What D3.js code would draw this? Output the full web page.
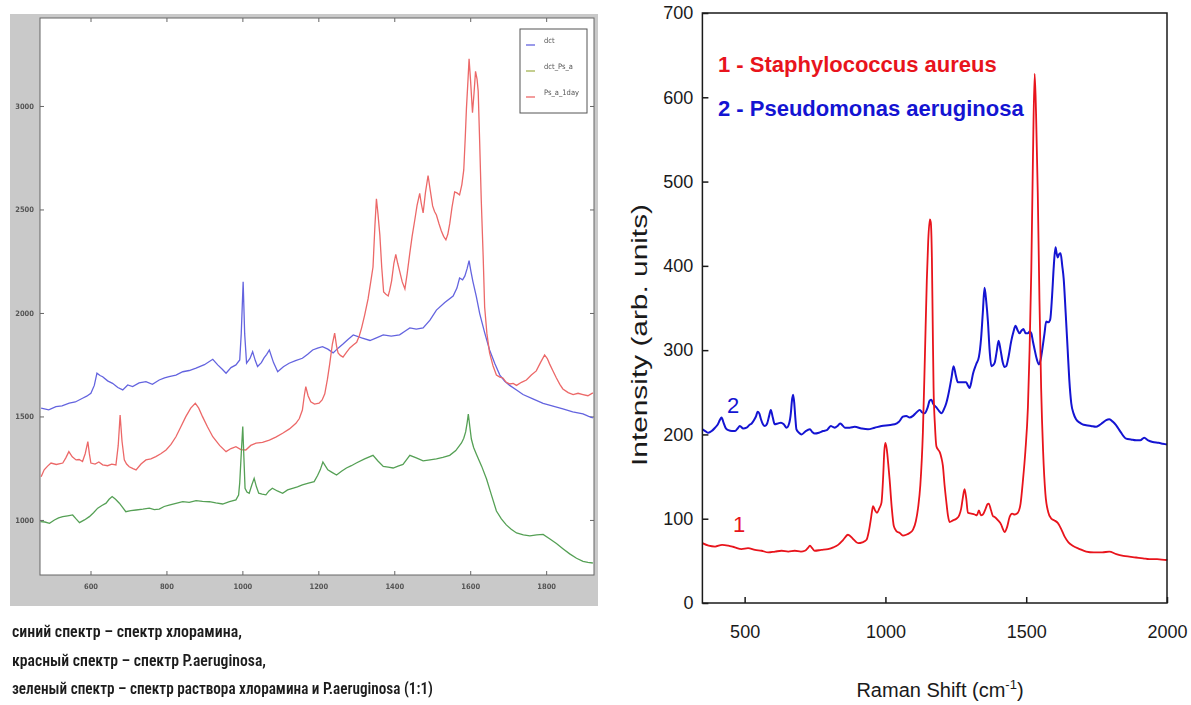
<!DOCTYPE html>
<html>
<head>
<meta charset="utf-8">
<script src="https://cdn.jsdelivr.net/npm/d3@7"></script>
<style>
  html, body { margin: 0; padding: 0; background: #ffffff; }
  svg { display: block; }
</style>
</head>
<body>
<svg id="fig" width="1191" height="705"></svg>
<script>
// ---------- Left panel: three spectra, [Raman shift, intensity] ----------
const dctSpectrum = [[470,1540],[490,1532],[509,1547],[525,1551],[544,1564],[560,1570],[579,1588],[590,1598],[601,1612],[610,1650],[617,1709],[625,1698],[632,1692],[645,1672],[658,1660],[672,1640],[685,1628],[698,1652],[711,1644],[728,1662],[746,1668],[763,1655],[781,1676],[795,1686],[807,1692],[825,1700],[843,1716],[860,1722],[878,1733],[900,1750],[922,1776],[935,1749],[947,1728],[957,1709],[970,1736],[983,1749],[993,1773],[997,1900],[1002,2151],[1006,1900],[1011,1757],[1020,1780],[1027,1813],[1034,1770],[1040,1741],[1050,1760],[1057,1783],[1064,1800],[1071,1821],[1082,1760],[1093,1716],[1108,1740],[1123,1757],[1140,1770],[1158,1781],[1172,1800],[1185,1821],[1198,1830],[1211,1837],[1225,1825],[1239,1807],[1252,1830],[1265,1850],[1278,1872],[1292,1894],[1314,1880],[1336,1867],[1353,1880],[1371,1894],[1392,1888],[1414,1894],[1428,1912],[1441,1928],[1458,1922],[1476,1928],[1494,1965],[1511,2014],[1533,2050],[1555,2082],[1565,2120],[1572,2169],[1580,2160],[1586,2179],[1592,2215],[1597,2253],[1602,2200],[1607,2153],[1616,2080],[1625,1997],[1638,1905],[1651,1821],[1665,1755],[1678,1700],[1691,1670],[1704,1650],[1722,1628],[1739,1606],[1765,1585],[1792,1563],[1818,1550],[1844,1536],[1870,1522],[1897,1512],[1912,1500],[1923,1493]];

const dctPsaSpectrum = [[468,992],[480,990],[492,984],[505,1000],[516,1010],[527,1016],[540,1020],[553,1024],[562,1005],[571,987],[584,1000],[597,1016],[608,1035],[619,1057],[630,1070],[641,1081],[649,1100],[657,1113],[666,1100],[676,1081],[685,1060],[693,1040],[706,1045],[720,1048],[738,1052],[755,1057],[768,1050],[781,1052],[794,1065],[807,1072],[825,1080],[843,1088],[860,1085],[878,1093],[895,1090],[913,1088],[930,1082],[948,1077],[966,1088],[983,1097],[990,1120],[993,1179],[997,1320],[1001,1451],[1004,1300],[1007,1153],[1012,1135],[1018,1129],[1025,1170],[1031,1201],[1037,1160],[1043,1129],[1052,1125],[1062,1121],[1070,1140],[1079,1153],[1092,1140],[1106,1129],[1119,1145],[1132,1153],[1145,1160],[1158,1169],[1174,1178],[1189,1185],[1198,1215],[1205,1242],[1212,1280],[1218,1262],[1225,1242],[1236,1230],[1248,1217],[1261,1235],[1274,1251],[1287,1262],[1300,1275],[1322,1295],[1344,1312],[1357,1285],[1371,1259],[1384,1255],[1397,1251],[1410,1260],[1423,1268],[1432,1290],[1441,1312],[1458,1300],[1476,1285],[1494,1290],[1511,1295],[1528,1302],[1546,1312],[1562,1335],[1577,1372],[1583,1395],[1588,1425],[1592,1470],[1595,1512],[1599,1450],[1603,1391],[1609,1350],[1616,1319],[1630,1260],[1643,1198],[1656,1120],[1669,1043],[1682,1005],[1695,976],[1708,955],[1722,937],[1740,928],[1757,923],[1775,928],[1792,930],[1810,908],[1827,886],[1845,860],[1862,836],[1880,815],[1897,800],[1910,795],[1923,792]];

const psa1daySpectrum = [[470,1209],[478,1242],[487,1260],[496,1275],[510,1268],[527,1275],[535,1300],[543,1330],[552,1305],[562,1290],[570,1292],[579,1282],[586,1320],[593,1378],[597,1320],[601,1275],[612,1270],[622,1280],[632,1266],[645,1262],[656,1270],[667,1266],[673,1360],[678,1507],[683,1380],[689,1290],[695,1270],[702,1257],[712,1248],[720,1242],[733,1270],[746,1290],[759,1295],[772,1306],[785,1320],[799,1338],[812,1365],[825,1402],[838,1450],[851,1499],[864,1540],[876,1564],[885,1540],[895,1499],[908,1450],[922,1402],[940,1360],[957,1330],[970,1345],[983,1354],[996,1340],[1009,1338],[1022,1360],[1036,1371],[1053,1375],[1071,1386],[1088,1400],[1106,1419],[1124,1440],[1141,1467],[1150,1490],[1158,1531],[1163,1600],[1167,1644],[1173,1600],[1180,1571],[1190,1560],[1202,1564],[1210,1580],[1217,1609],[1224,1680],[1230,1754],[1237,1850],[1243,1903],[1248,1840],[1252,1807],[1258,1795],[1265,1787],[1274,1810],[1283,1831],[1292,1845],[1301,1858],[1308,1890],[1314,1928],[1322,1990],[1331,2068],[1338,2150],[1344,2222],[1349,2420],[1353,2551],[1357,2480],[1362,2377],[1367,2220],[1372,2101],[1378,2090],[1384,2082],[1388,2110],[1393,2155],[1399,2240],[1404,2283],[1409,2240],[1414,2203],[1421,2150],[1428,2116],[1434,2190],[1441,2290],[1447,2370],[1454,2449],[1460,2520],[1467,2578],[1471,2530],[1476,2483],[1482,2580],[1489,2664],[1495,2590],[1501,2517],[1506,2490],[1511,2473],[1518,2430],[1524,2396],[1530,2370],[1536,2353],[1541,2380],[1546,2430],[1552,2510],[1559,2585],[1565,2580],[1572,2570],[1578,2620],[1583,2691],[1587,2850],[1590,2986],[1594,3120],[1597,3228],[1601,3120],[1606,2968],[1610,3060],[1614,3167],[1618,3130],[1621,3072],[1625,2820],[1629,2551],[1634,2280],[1638,2029],[1644,1900],[1651,1807],[1660,1745],[1669,1700],[1678,1690],[1686,1686],[1695,1665],[1704,1657],[1713,1660],[1722,1650],[1735,1665],[1748,1676],[1761,1700],[1774,1720],[1785,1760],[1796,1797],[1803,1780],[1809,1754],[1818,1720],[1827,1686],[1836,1655],[1844,1633],[1858,1615],[1871,1606],[1884,1612],[1897,1606],[1910,1600],[1923,1614]];

const leftLegendNames = ["dct", "dct_Ps_a", "Ps_a_1day"];
const leftXTicks = [600, 800, 1000, 1200, 1400, 1600, 1800];
const leftYTicks = [1000, 1500, 2000, 2500, 3000];
const captionLines = [
  "синий спектр – спектр хлорамина,",
  "красный спектр – спектр P.aeruginosa,",
  "зеленый спектр – спектр раствора хлорамина и P.aeruginosa (1:1)"
];

// ---------- Right panel: two bacterial spectra ----------
const staphAureus = [[350,71],[372,68],[395,67],[420,69],[442,68],[465,66],[489,64],[512,65],[537,63],[560,62],[584,60],[608,61],[631,62],[655,61],[678,62],[700,61],[714,62],[724,65],[732,68],[740,65],[749,62],[772,63],[796,64],[815,66],[832,69],[850,75],[867,81],[885,76],[903,71],[918,72],[933,75],[941,85],[948,99],[952,108],[956,115],[963,110],[970,107],[978,112],[986,119],[992,150],[996,180],[1000,190],[1005,182],[1010,165],[1015,146],[1022,115],[1030,91],[1040,85],[1051,83],[1062,80],[1074,81],[1086,83],[1098,87],[1108,97],[1116,113],[1124,140],[1133,202],[1140,290],[1147,383],[1152,430],[1158,455],[1161,452],[1165,410],[1168,330],[1171,255],[1176,210],[1181,186],[1187,182],[1193,179],[1199,172],[1204,163],[1210,140],[1216,121],[1222,104],[1228,96],[1240,98],[1252,100],[1262,104],[1269,112],[1275,125],[1281,135],[1287,124],[1293,107],[1305,106],[1317,105],[1325,104],[1332,110],[1339,104],[1346,105],[1356,112],[1362,117],[1367,118],[1375,110],[1382,103],[1388,102],[1400,98],[1411,93],[1417,88],[1423,84],[1432,90],[1441,102],[1450,106],[1459,105],[1470,107],[1480,118],[1488,144],[1497,180],[1506,232],[1512,300],[1518,394],[1524,530],[1530,628],[1535,580],[1541,487],[1547,360],[1553,255],[1560,180],[1568,130],[1578,108],[1589,100],[1600,98],[1612,95],[1624,88],[1636,79],[1650,72],[1665,68],[1690,64],[1713,61],[1740,60],[1770,60],[1795,61],[1820,58],[1845,56],[1866,55],[1890,54],[1915,53],[1937,52],[1965,52],[1997,51],[2000,52]];

const pseudoAeruginosa = [[350,206],[360,204],[371,202],[383,204],[395,208],[405,212],[412,217],[418,220],[425,214],[432,208],[442,205],[455,204],[466,204],[475,207],[483,210],[495,207],[507,208],[516,211],[525,213],[535,218],[541,222],[546,227],[552,225],[558,218],[565,212],[572,210],[580,213],[587,222],[593,229],[600,220],[607,212],[618,213],[629,214],[639,212],[649,208],[658,213],[664,225],[668,240],[672,247],[676,238],[680,220],[684,206],[693,202],[702,200],[717,204],[732,206],[740,203],[749,201],[764,202],[779,204],[792,205],[806,210],[813,209],[820,208],[830,210],[839,213],[847,211],[856,208],[873,208],[891,209],[915,207],[938,206],[962,208],[986,210],[1010,211],[1033,212],[1048,215],[1062,221],[1074,222],[1086,220],[1098,222],[1110,226],[1122,229],[1131,226],[1139,225],[1150,232],[1157,240],[1163,241],[1170,236],[1181,232],[1190,228],[1199,225],[1208,230],[1216,237],[1222,245],[1228,255],[1235,268],[1242,281],[1250,270],[1257,262],[1272,262],[1287,262],[1293,258],[1299,255],[1305,262],[1311,272],[1322,283],[1332,292],[1340,315],[1346,345],[1352,374],[1358,358],[1364,334],[1370,300],[1376,281],[1382,282],[1388,285],[1395,298],[1402,311],[1409,300],[1417,285],[1423,280],[1429,281],[1436,290],[1447,311],[1455,322],[1462,329],[1469,324],[1476,320],[1483,323],[1490,325],[1498,320],[1506,320],[1512,322],[1518,320],[1524,310],[1529,302],[1537,290],[1545,283],[1552,290],[1558,303],[1565,320],[1571,334],[1578,333],[1585,336],[1592,365],[1598,400],[1604,422],[1608,415],[1612,410],[1617,414],[1622,415],[1628,400],[1633,385],[1640,345],[1647,302],[1653,265],[1660,237],[1668,225],[1677,218],[1690,214],[1700,212],[1713,211],[1730,210],[1748,209],[1760,211],[1772,214],[1784,217],[1795,218],[1808,215],[1819,211],[1835,203],[1855,195],[1872,194],[1890,193],[1905,193],[1919,196],[1933,193],[1949,191],[1970,190],[1985,189],[2000,188]];

const rightXTicks = [500, 1000, 1500, 2000];
const rightYTicks = [0, 100, 200, 300, 400, 500, 600, 700];
const rightLegend = ["1 - Staphylococcus aureus", "2 - Pseudomonas aeruginosa"];

// ---------------------------------------------------------------------
const svg = d3.select("#fig");
const defs = svg.append("defs");
defs.append("filter").attr("id", "soft")
  .attr("x", "-5%").attr("y", "-5%").attr("width", "110%").attr("height", "110%")
  .append("feGaussianBlur").attr("stdDeviation", 0.75);

// ===== Left panel =====
const L = { left: 40, right: 594, top: 18, bottom: 575 };
const left = svg.append("g").attr("filter", "url(#soft)");

left.append("rect").attr("x", 10).attr("y", 14).attr("width", 588).attr("height", 592)
  .attr("fill", "#c9c9c9");
left.append("rect").attr("x", L.left).attr("y", L.top)
  .attr("width", L.right - L.left).attr("height", L.bottom - L.top)
  .attr("fill", "#ffffff");

const xL = d3.scaleLinear().domain([467, 1926]).range([L.left, L.right]);
const yL = d3.scaleLinear().domain([734, 3425]).range([L.bottom, L.top]);

const tickStyle = g => {
  g.select(".domain").remove();
  g.selectAll(".tick line").attr("stroke", "#666");
  g.selectAll(".tick text").attr("fill", "#555").attr("font-size", 7.5)
    .attr("font-weight", "bold").attr("font-family", "DejaVu Sans Condensed, DejaVu Sans, sans-serif");
};
left.append("g").attr("transform", `translate(0,${L.bottom})`)
  .call(d3.axisBottom(xL).tickValues(leftXTicks).tickSize(-4).tickPadding(9).tickFormat(d3.format("d")))
  .call(tickStyle);
left.append("g").attr("transform", `translate(0,${L.top})`)
  .call(d3.axisTop(xL).tickValues(leftXTicks).tickSize(-4).tickFormat(""))
  .call(tickStyle);
left.append("g").attr("transform", `translate(${L.left},0)`)
  .call(d3.axisLeft(yL).tickValues(leftYTicks).tickSize(-4).tickPadding(6).tickFormat(d3.format("d")))
  .call(tickStyle);
left.append("g").attr("transform", `translate(${L.right},0)`)
  .call(d3.axisRight(yL).tickValues(leftYTicks).tickSize(-4).tickFormat(""))
  .call(tickStyle);

const lineL = d3.line().x(d => xL(d[0])).y(d => yL(d[1])).curve(d3.curveLinear);
const leftSeries = [
  { data: dctSpectrum, color: "#6464df" },
  { data: psa1daySpectrum, color: "#ec6868" },
  { data: dctPsaSpectrum, color: "#55a055" }
];
left.append("g").selectAll("path").data(leftSeries).join("path")
  .attr("d", d => lineL(d.data)).attr("fill", "none")
  .attr("stroke", d => d.color).attr("stroke-width", 1.3);

left.append("rect").attr("x", L.left).attr("y", L.top)
  .attr("width", L.right - L.left).attr("height", L.bottom - L.top)
  .attr("fill", "none").attr("stroke", "#666").attr("stroke-width", 1);

// legend box
const lg = left.append("g").attr("transform", "translate(520,29)");
lg.append("rect").attr("width", 67).attr("height", 84)
  .attr("fill", "#ffffff").attr("stroke", "#555").attr("stroke-width", 1);
const legendColors = ["#6464df", "#a4b452", "#ec6868"];
leftLegendNames.forEach((name, i) => {
  const yy = 14 + i * 26;
  lg.append("line").attr("x1", 6).attr("x2", 15).attr("y1", yy + 2).attr("y2", yy + 2)
    .attr("stroke", legendColors[i]).attr("stroke-width", 1.3);
  lg.append("text").attr("x", 24).attr("y", yy).text(name)
    .attr("font-size", 7.5).attr("fill", "#555")
    .attr("font-family", "DejaVu Sans Condensed, DejaVu Sans, sans-serif");
});

// caption under the left panel
const captionWidths = [230, 254, 421];
const cap = svg.append("g").attr("filter", "url(#soft)");
captionLines.forEach((t, i) => {
  cap.append("text").attr("x", 12).attr("y", 637 + i * 28.5).text(t)
    .attr("font-family", "Liberation Sans Narrow, Roboto Condensed, Liberation Sans, sans-serif")
    .attr("font-size", 17).attr("font-weight", 600).attr("fill", "#1e1e1e")
    .attr("textLength", captionWidths[i]).attr("lengthAdjust", "spacingAndGlyphs");
});

// ===== Right panel =====
const R = { left: 702.4, right: 1167, top: 13, bottom: 603 };
const right = svg.append("g");
const xR = d3.scaleLinear().domain([350, 2000]).range([R.left, R.right]);
const yR = d3.scaleLinear().domain([0, 700]).range([R.bottom, R.top]);

const axisStyleR = g => {
  g.select(".domain").remove();
  g.selectAll(".tick line").attr("stroke", "#1a1a1a").attr("stroke-width", 1.5);
  g.selectAll(".tick text").attr("fill", "#1a1a1a").attr("font-size", 18)
    .attr("font-family", "Liberation Sans, Arial, sans-serif");
};
right.append("g").attr("transform", `translate(0,${R.bottom})`)
  .call(d3.axisBottom(xR).tickValues(rightXTicks).tickSize(-6).tickPadding(22).tickFormat(d3.format("d")))
  .call(axisStyleR);
right.append("g").attr("transform", `translate(${R.left},0)`)
  .call(d3.axisLeft(yR).tickValues(rightYTicks).tickSize(-6).tickPadding(9).tickFormat(d3.format("d")))
  .call(axisStyleR);

const lineR = d3.line().x(d => xR(d[0])).y(d => yR(d[1])).curve(d3.curveMonotoneX);
right.append("path").attr("d", lineR(pseudoAeruginosa)).attr("fill", "none")
  .attr("stroke", "#1414d2").attr("stroke-width", 2).attr("stroke-linejoin", "round");
right.append("path").attr("d", lineR(staphAureus)).attr("fill", "none")
  .attr("stroke", "#e8141c").attr("stroke-width", 1.8).attr("stroke-linejoin", "round");

right.append("rect").attr("x", R.left).attr("y", R.top)
  .attr("width", R.right - R.left).attr("height", R.bottom - R.top)
  .attr("fill", "none").attr("stroke", "#1a1a1a").attr("stroke-width", 1.5);

// legend labels
const legendColorsR = ["#e8141c", "#1414d2"];
rightLegend.forEach((t, i) => {
  right.append("text").attr("x", 718).attr("y", 72 + i * 44).text(t)
    .attr("font-family", "Liberation Sans, Arial, sans-serif").attr("font-weight", "bold")
    .attr("font-size", 22).attr("fill", legendColorsR[i]);
});
// curve numbers
right.append("text").attr("x", 733).attr("y", 413).attr("text-anchor", "middle").text("2")
  .attr("font-family", "Liberation Sans, Arial, sans-serif").attr("font-size", 22).attr("fill", "#1414d2");
right.append("text").attr("x", 739).attr("y", 532).attr("text-anchor", "middle").text("1")
  .attr("font-family", "Liberation Sans, Arial, sans-serif").attr("font-size", 22).attr("fill", "#e8141c");

// axis titles
right.append("text").attr("transform", "translate(647,335) rotate(-90)")
  .attr("text-anchor", "middle").text("Intensity (arb. units)")
  .attr("font-family", "Liberation Sans, Arial, sans-serif").attr("font-size", 22).attr("fill", "#1a1a1a")
  .attr("textLength", 262).attr("lengthAdjust", "spacingAndGlyphs");

const xt = right.append("text").attr("x", 940).attr("y", 697).attr("text-anchor", "middle")
  .attr("font-family", "Liberation Sans, Arial, sans-serif").attr("font-size", 20).attr("fill", "#1a1a1a");
xt.append("tspan").text("Raman Shift (cm");
xt.append("tspan").attr("dy", -8).attr("font-size", 13).text("-1");
xt.append("tspan").attr("dy", 8).text(")");
</script>
</body>
</html>
